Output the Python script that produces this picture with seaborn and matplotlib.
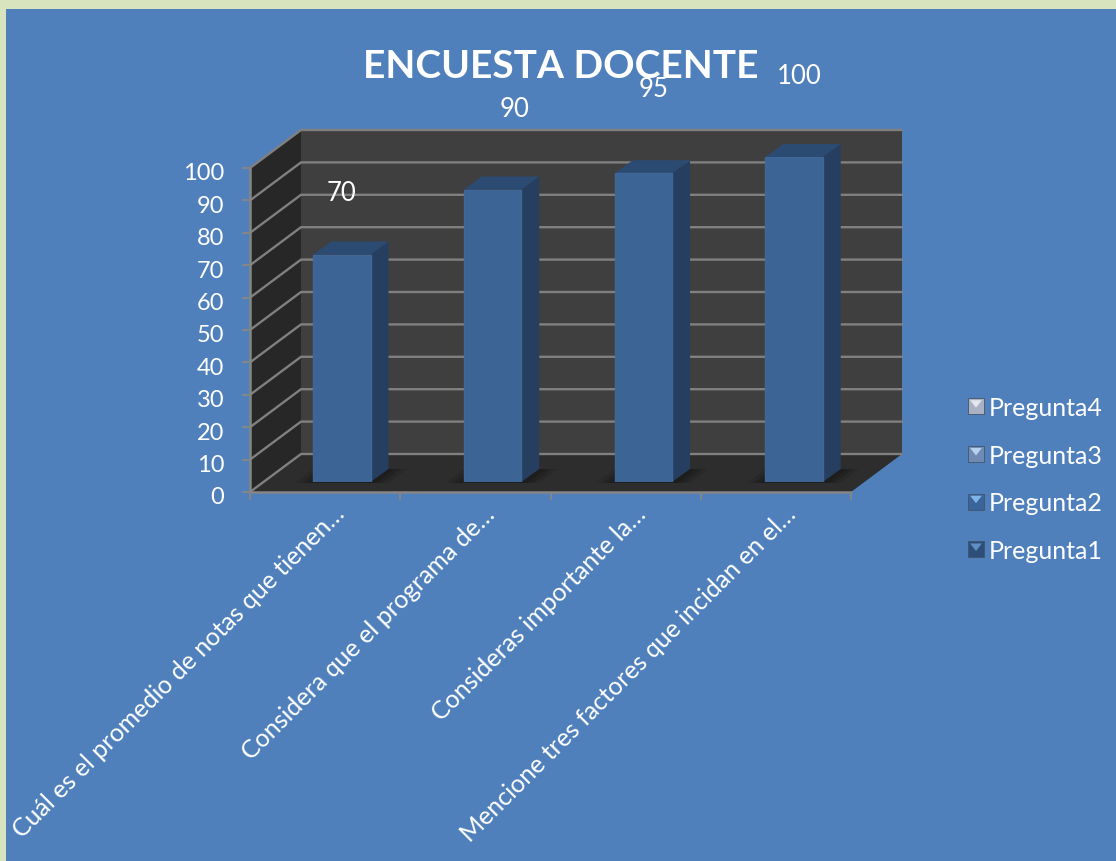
import matplotlib
matplotlib.use("Agg")
import matplotlib.pyplot as plt
import seaborn as sns
from matplotlib.patches import Polygon, Rectangle, Patch
from matplotlib.lines import Line2D
from matplotlib.legend_handler import HandlerBase
from matplotlib.transforms import ScaledTranslation, IdentityTransform

categories = ["Cuál es el promedio de notas que tienen…",
              "Considera que el programa de…",
              "Consideras importante la…",
              "Mencione tres factores que incidan en el…"]
values = [70, 90, 95, 100]
value_ticks = [0, 10, 20, 30, 40, 50, 60, 70, 80, 90, 100]
legend_names = ["Pregunta4", "Pregunta3", "Pregunta2", "Pregunta1"]
title_text = "ENCUESTA DOCENTE"

legend_colors = [("#a9b1c2", "#e4e7ee"), ("#6f8bb3", "#b7d0ee"), ("#3a659b", "#7fb4e8"), ("#2c4e78", "#5f8fc4")]
label_offsets_px = [(0, 62), (22, 81), (10, 85), (5, 81)]

W, H = 1116, 862
DEPTH_WALL = (51, 38)
DEPTH_BAR = (18, 13)
GRID = "#808080"
WHITE = "#ffffff"

sns.set_theme(style="white")
plt.rcParams["font.family"] = ["Lato", "DejaVu Sans"]
fig = plt.figure(figsize=(W / 100, H / 100), dpi=100, facecolor="#d7e4bd")
ID = IdentityTransform()
fig.add_artist(Rectangle((6, 0), W - 6, H - 10, transform=ID, fc="#4f80bc", ec="none", zorder=-5))


def axes_px(x0, x1, y_top, y_bot):
    return fig.add_axes([x0 / W, (H - y_bot) / H, (x1 - x0) / W, (y_bot - y_top) / H])


ax = axes_px(250, 851, 169, 493)
bar_ax = axes_px(266.5, 869.5, 158, 483)
for a in (ax, bar_ax):
    a.set_facecolor("none")
ax.set_xlim(-0.5, 3.5)
ax.set_ylim(0, 100)
ax.set_zorder(1)
bar_ax.set_zorder(2)
for s in ax.spines.values():
    s.set_visible(False)


def d(axis, x, y, off=(0, 0)):
    px, py = axis.transData.transform((x, y))
    return (px + off[0], py + off[1])


def poly(points, fc, z, alpha=None, axis=ax):
    axis.add_patch(Polygon(points, closed=True, transform=ID, fc=fc, ec="none", zorder=z, alpha=alpha, clip_on=False))


# walls and floor
xl, xr = -0.5, 3.5
poly([d(ax, xl, 0, DEPTH_WALL), d(ax, xr, 0, DEPTH_WALL), d(ax, xr, 100, DEPTH_WALL), d(ax, xl, 100, DEPTH_WALL)], "#3f3f3f", 0)
poly([d(ax, xl, 0), d(ax, xl, 0, DEPTH_WALL), d(ax, xl, 100, DEPTH_WALL), d(ax, xl, 100)], "#272727", 0)
poly([d(ax, xl, 0), d(ax, xr, 0), d(ax, xr, 0, DEPTH_WALL), d(ax, xl, 0, DEPTH_WALL)], "#2d2d2d", 0)

for v in value_ticks:
    a, b, c = d(ax, xl, v), d(ax, xl, v, DEPTH_WALL), d(ax, xr, v, DEPTH_WALL)
    ax.add_line(Line2D([a[0], b[0], c[0]], [a[1], b[1], c[1]], transform=ID, color=GRID, lw=1.7, zorder=1, clip_on=False))
a, b, c = d(ax, xl, 100), d(ax, xl, 0), d(ax, xr, 0)
ax.add_line(Line2D([a[0], b[0], c[0]], [a[1], b[1], c[1]], transform=ID, color="#868686", lw=1.8, zorder=2, clip_on=False))

# bars
sns.barplot(x=categories, y=values, ax=bar_ax, order=categories, color="#3c6494", saturation=1, width=0.38,
            edgecolor="#3f6899", linewidth=1)
bar_ax.set_xlim(-0.5, 3.5)
bar_ax.set_ylim(0, 100)
bar_ax.axis("off")

for rect, offs in zip(list(bar_ax.patches), label_offsets_px):
    x0, x1 = rect.get_x(), rect.get_x() + rect.get_width()
    top = rect.get_height()
    dx, dy = DEPTH_BAR
    # floor shadow
    for grow, al in ((18, 0.2), (12, 0.3), (6, 0.4)):
        poly([d(bar_ax, x0, 0, (-grow, -1)), d(bar_ax, x1, 0, (grow, -1)),
              d(bar_ax, x1, 0, (dx + grow, dy)), d(bar_ax, x0, 0, (dx - grow, dy))], "#161616", 1.5, al)
    poly([d(bar_ax, x1, 0), d(bar_ax, x1, 0, (dx, dy)), d(bar_ax, x1, top, (dx, dy)), d(bar_ax, x1, top)], "#263f60", 3, axis=bar_ax)
    poly([d(bar_ax, x0, top), d(bar_ax, x1, top), d(bar_ax, x1, top, (dx, dy)), d(bar_ax, x0, top, (dx, dy))], "#2c4b73", 3, axis=bar_ax)
    rect.set_zorder(4)
    bar_ax.annotate(f"{top:g}", xy=(rect.get_x() + rect.get_width() / 2, top), xytext=(offs[0] * 0.72, offs[1] * 0.72),
                    textcoords="offset points", ha="center", va="center", color=WHITE, fontsize=18.5, annotation_clip=False, zorder=5)

# axes ticks
ax.set_yticks(value_ticks)
ax.set_yticklabels([str(v) for v in value_ticks])
ax.set_xticks([-0.5, 0.5, 1.5, 2.5, 3.5])
ax.set_xticklabels([])
ax.set_xticks([0, 1, 2, 3], minor=True)
ax.set_xticklabels(categories, minor=True)
ax.tick_params(axis="both", which="major", length=6, width=1.4, color="#868686", bottom=True, left=True)
ax.tick_params(axis="x", which="minor", length=0, pad=12.5)
ax.tick_params(axis="y", labelsize=17, labelcolor=WHITE, pad=12.5)
for lab in ax.get_yticklabels():
    lab.set_transform(lab.get_transform() + ScaledTranslation(0, -3 / 100, fig.dpi_scale_trans))
for lab in ax.get_xticklabels(minor=True):
    lab.set(rotation=45, ha="right", va="center", rotation_mode="anchor", color=WHITE, fontsize=18)
    lab.set_transform(lab.get_transform() + ScaledTranslation(16 / 100, 0, fig.dpi_scale_trans))

fig.text(561 / W, (H - 67) / H, title_text, ha="center", va="center", color=WHITE, fontsize=28, fontweight="bold", zorder=10)


class BevelHandler(HandlerBase):
    def create_artists(self, legend, orig, xd, yd, width, height, fontsize, trans):
        side = 16 * 0.72
        y0 = (height - side) / 2
        fc, hi = orig.get_facecolor(), orig.get_edgecolor()
        sq = Rectangle((0, y0), side, side, fc=fc, ec="#44546a", lw=0.6, transform=trans)
        tri = Polygon([(1.5, y0 + side - 1.5), (side - 1.5, y0 + side - 1.5), (side / 2, y0 + side * 0.4)],
                      closed=True, fc=hi, ec="none", transform=trans)
        return [sq, tri]


handles = [Patch(facecolor=c, edgecolor=h, label=n) for n, (c, h) in zip(legend_names, legend_colors)]
fig.legend(handles=handles, handler_map={Patch: BevelHandler()}, loc="center left",
           bbox_to_anchor=(968 / W, (H - 480) / H), frameon=False, fontsize=18, labelcolor=WHITE,
           labelspacing=0.99, handlelength=0.64, handletextpad=0.2, borderpad=0, borderaxespad=0)

fig.savefig("out.png", dpi=100, facecolor=fig.get_facecolor())
